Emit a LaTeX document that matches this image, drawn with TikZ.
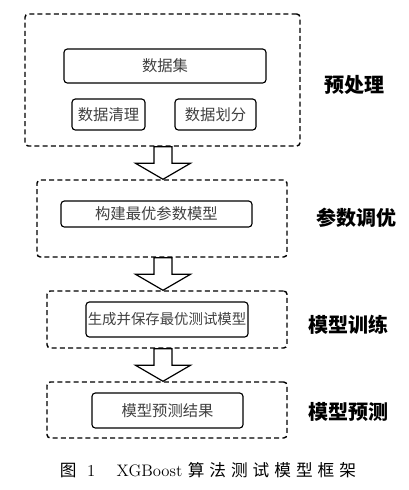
\documentclass[tikz,border=0pt]{standalone}
\usepackage{fontspec}
\newfontfamily\cjk{Noto Sans CJK SC}
\newfontfamily\capcjk[LetterSpace=30]{Noto Sans CJK SC}
\usetikzlibrary{calc}
\tikzset{stage/.style={draw,line width=1.1pt,dash pattern={on 3.75pt off 2.4pt},rounded corners=2.5pt,inner sep=0pt},
    inbox/.style={draw,line width=0.85pt,rounded corners=2.5pt,inner sep=0pt,text=black!75,font=\cjk\fontsize{11.5}{13}\selectfont},
    stagelabel/.style={font=\cjk\bfseries\fontsize{15}{17}\selectfont},
    blockarr/.style={draw,fill=white,line width=0.9pt,to path={($(\tikztostart)+(-9,0)$) -- ($(\tikztotarget)+(-9,-16)$) -- ($(\tikztotarget)+(-27.5,-16)$) -- (\tikztotarget) -- ($(\tikztotarget)+(27.5,-16)$) -- ($(\tikztotarget)+(9,-16)$) -- ($(\tikztostart)+(9,0)$) -- cycle}}}
\begin{document}
\begin{tikzpicture}[x=0.75pt,y=0.75pt,yscale=-1,xscale=1]
\path[use as bounding box] (0,0) rectangle (408,490);

%Stage boxes
\node[stage,minimum width=206.25pt,minimum height=99pt] (pre) at (162.5,80) {};
\node[stage,minimum width=187.5pt,minimum height=57.75pt] (tune) at (162,218.5) {};
\node[stage,minimum width=180pt,minimum height=42.75pt] (train) at (167,319.5) {};
\node[stage,minimum width=180pt,minimum height=42pt] (pred) at (167,410) {};

%Inner boxes
\node[inbox,minimum width=151.5pt,minimum height=25.5pt] (dataset) at (165,66) {数据集};
\node[inbox,minimum width=54.75pt,minimum height=23.25pt] (clean) at (108.5,114.5) {数据清理};
\node[inbox,minimum width=60.75pt,minimum height=23.25pt] (split) at (215.5,114.5) {数据划分};
\node[inbox,minimum width=143.25pt,minimum height=19.5pt] (build) at (156.5,214) {构建最优参数模型};
\node[inbox,minimum width=121.5pt,minimum height=26.25pt,font=\cjk\fontsize{10.8}{13}\selectfont] (save) at (167,319.5) {生成并保存最优测试模型};
\node[inbox,minimum width=113.25pt,minimum height=26.25pt] (result) at (167.5,410.5) {模型预测结果};

%Stage labels
\node[stagelabel] (lpre) at (354,85) {预处理};
\node[stagelabel] (ltune) at (356,218) {参数调优};
\node[stagelabel] (ltrain) at (348,325) {模型训练};
\node[stagelabel] (lpred) at (348,412) {模型预测};

%Block arrows
\coordinate (axis) at (163,0);
\draw[blockarr] (pre.south -| axis) to (tune.north -| axis);
\draw[blockarr] (tune.south -| axis) to (train.north -| axis);
\draw[blockarr] (train.south -| axis) to (pred.north -| axis);

%Caption
\node[font=\fontsize{12.5}{14}\selectfont] (cap) at (208,470) {{\capcjk 图}\hspace{8pt}1\hspace{16pt}{\addfontfeature{LetterSpace=12}XGBoost}\hspace{4pt}{\capcjk 算法测试模型框架}};

\end{tikzpicture}
\end{document}
